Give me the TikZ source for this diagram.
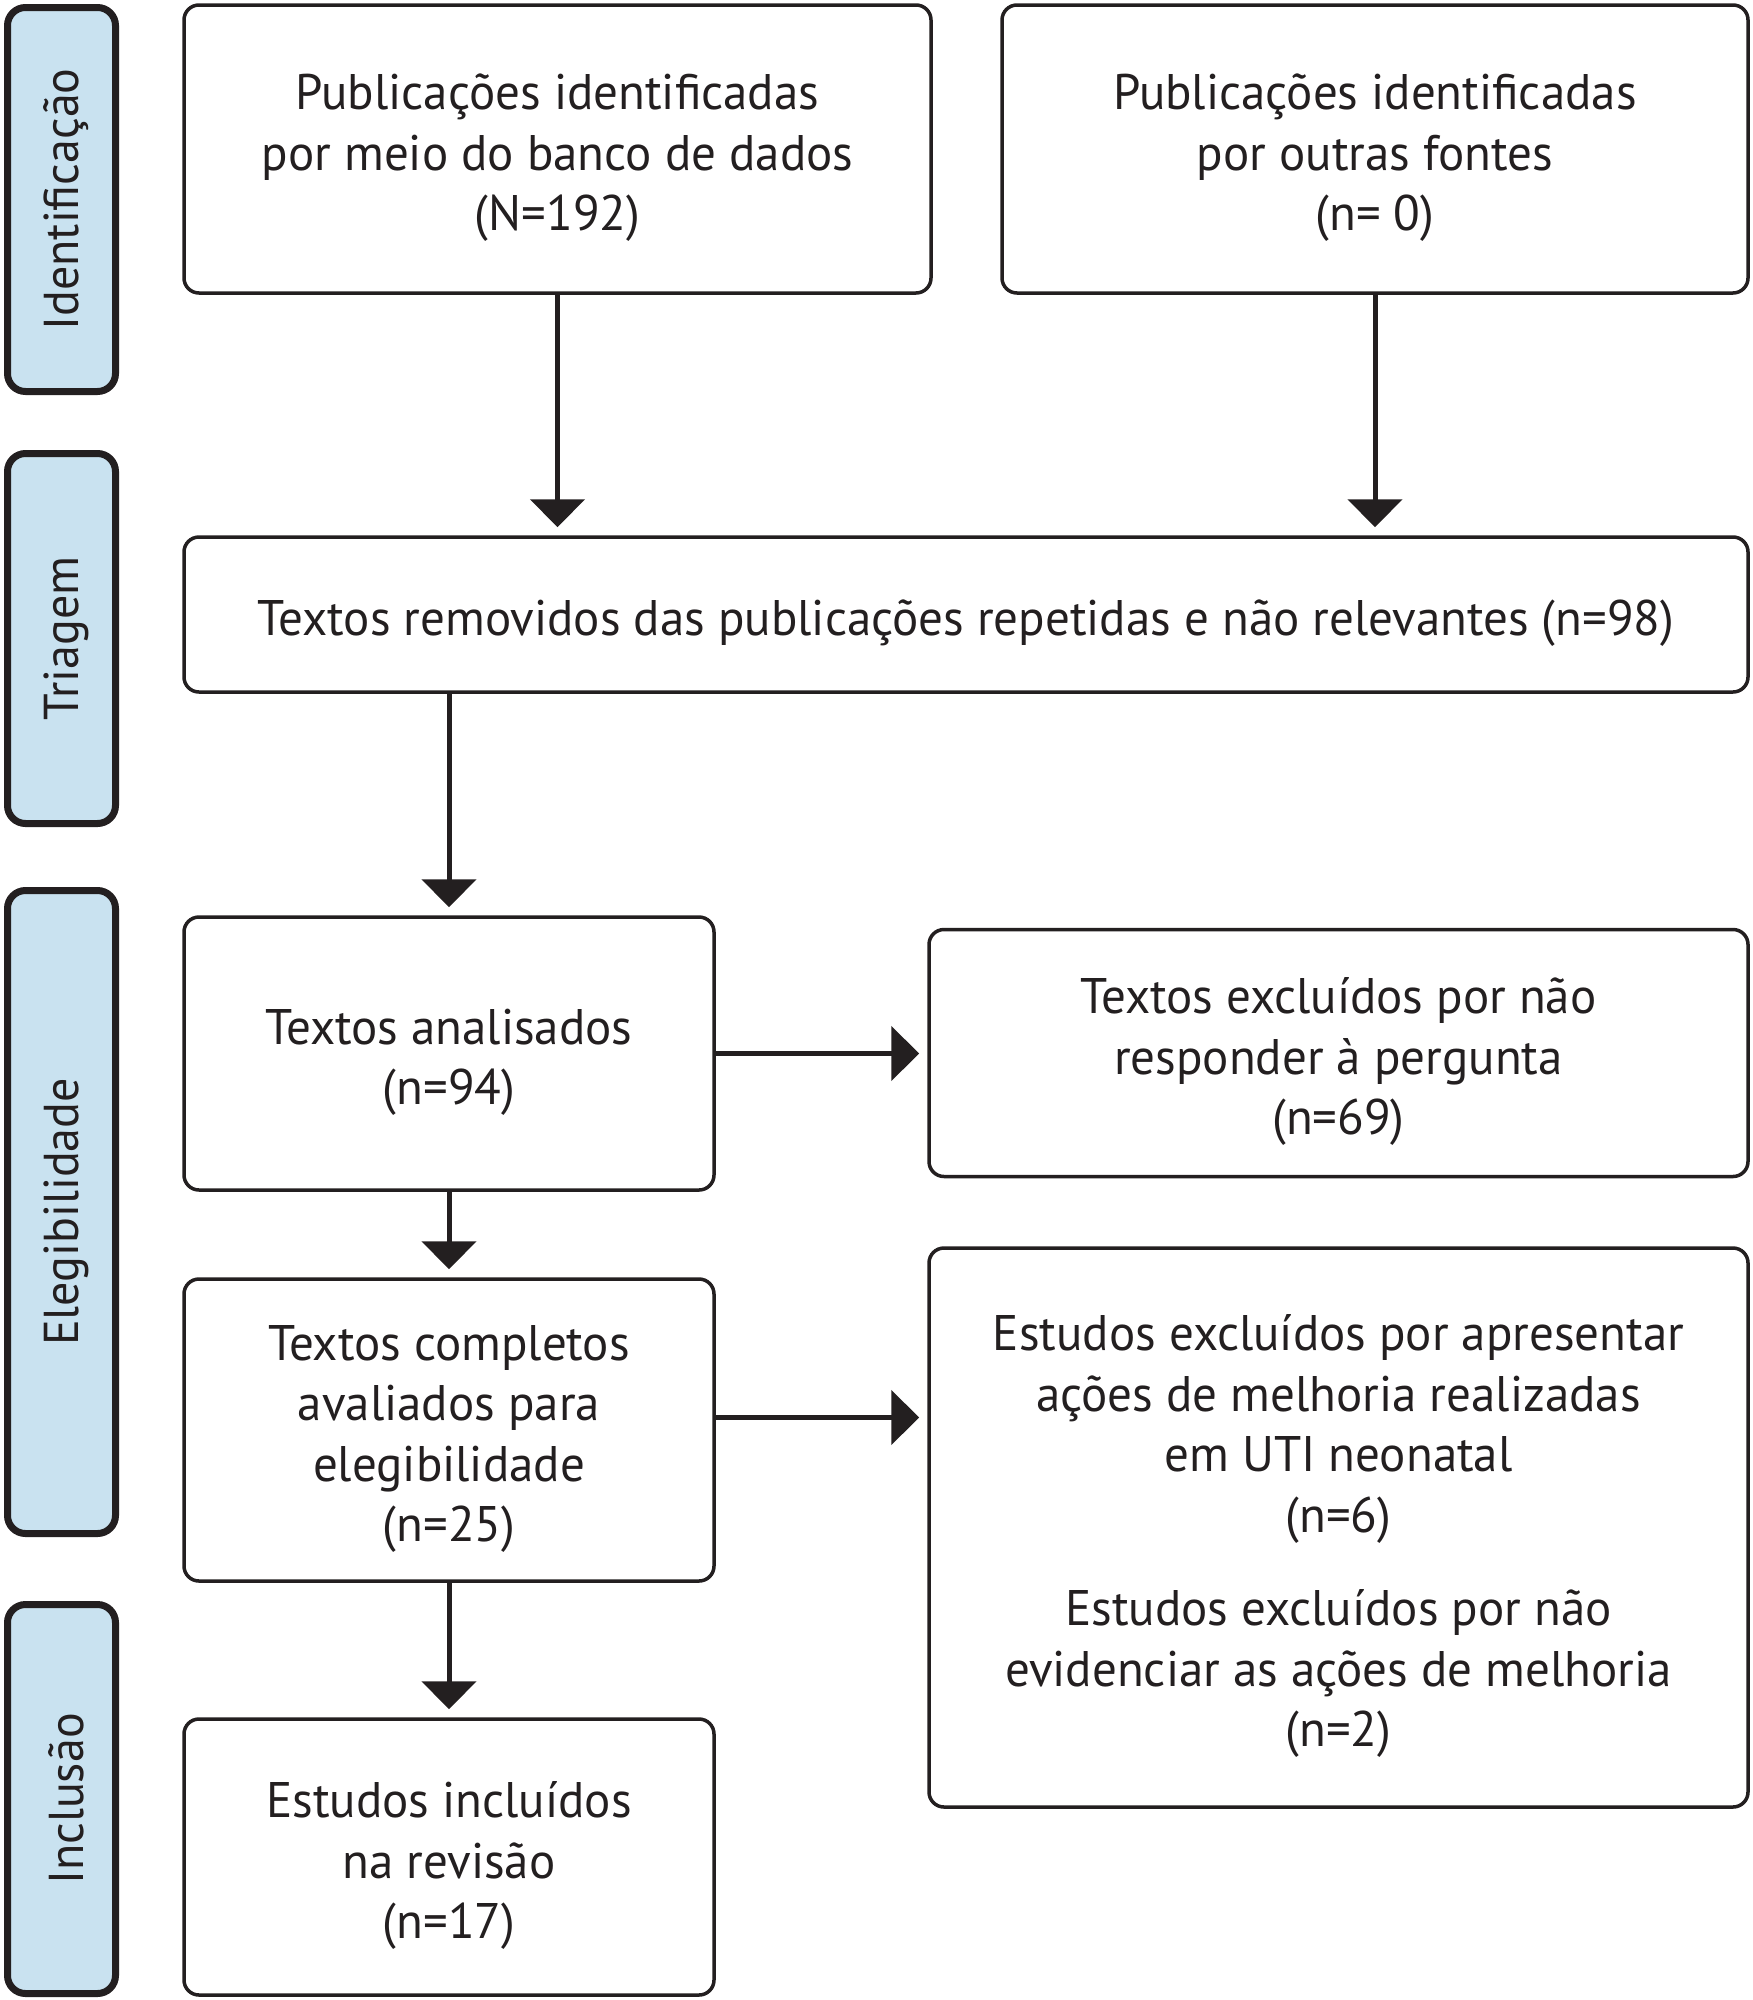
\documentclass[tikz,border=0pt]{standalone}
\usepackage{fontspec}
\setmainfont{PT Sans}[FakeStretch=0.98]
\usetikzlibrary{arrows.meta,calc}
\definecolor{ink}{HTML}{231F20}
\definecolor{sideblue}{HTML}{C9E2F0}
\newcommand{\boxstrut}{\rule{0pt}{53pt}}
\begin{document}
\begin{tikzpicture}[x=1pt,y=-1pt,
  box/.style={draw=ink, line width=3.5pt, rounded corners=15pt, fill=white, align=center,
    font=\fontsize{50}{60.5}\selectfont, text=ink, inner sep=0pt},
  side/.style={draw=ink, line width=7pt, rounded corners=18pt, fill=sideblue, inner sep=0pt,
    minimum width=108pt},
  sidelabel/.style={rotate=90, text=ink, font=\fontsize{49}{60}\selectfont},
  arr/.style={draw=ink, line width=5pt, -{Triangle[length=28pt,width=54pt]}, shorten >=8pt}
]
\useasboundingbox (0,0) rectangle (1753,2000);
% side bars
\node[side, minimum height=384pt] (s1) at (61.5,199.5) {};
\node[side, minimum height=370pt] (s2) at (61.5,638.5) {};
\node[side, minimum height=643pt] (s3) at (61.5,1212) {};
\node[side, minimum height=389pt] (s4) at (61.5,1799) {};
\node[sidelabel] (l1) at ($(s1.center)+(5,0)$) {Identificação};
\node[sidelabel] (l2) at ($(s2.center)+(5,0)$) {Triagem};
\node[sidelabel] (l3) at ($(s3.center)+(5,0)$) {Elegibilidade};
\node[sidelabel] (l4) at ($(s4.center)+(5,0)$) {Inclusão};
% boxes
\node[box, minimum width=747pt, minimum height=288pt] (b1) at (557.5,149)
  {\boxstrut Publicações identificadas\\por meio do banco de dados\\(N=192)};
\node[box, minimum width=746pt, minimum height=288pt] (b2) at (1375,149)
  {\boxstrut Publicações identificadas\\por outras fontes\\(n= 0)};
\node[box, minimum width=1564pt, minimum height=155pt] (b3) at (966,614.5)
  {\boxstrut Textos removidos das publicações repetidas e não relevantes (n=98)};
\node[box, minimum width=530pt, minimum height=273pt] (b4) at (449,1053.5)
  {\boxstrut Textos analisados\\(n=94)};
\node[box, minimum width=819pt, minimum height=247pt] (b5) at (1338.5,1053)
  {\boxstrut Textos excluídos por não\\responder à pergunta\\(n=69)};
\node[box, minimum width=530pt, minimum height=302pt] (b6) at (449,1430)
  {\boxstrut Textos completos\\avaliados para\\elegibilidade\\(n=25)};
\node[box, minimum width=819pt, minimum height=559pt] (b7) at (1338.5,1527.5)
  {\boxstrut Estudos excluídos por apresentar\\ações de melhoria realizadas\\em UTI neonatal\\(n=6)\\[33pt]Estudos excluídos por não\\evidenciar as ações de melhoria\\(n=2)};
\node[box, minimum width=530pt, minimum height=276pt] (b8) at (449,1857)
  {\boxstrut Estudos incluídos\\na revisão\\(n=17)};
% arrows
\draw[arr] (b1.south) -- (b1.south |- b3.north);
\draw[arr] (b2.south) -- (b2.south |- b3.north);
\draw[arr] (b3.south -| b4.north) -- (b4.north);
\draw[arr] (b4.east) -- (b4.east -| b5.west);
\draw[arr] (b4.south) -- (b6.north);
\draw[arr] ($(b6.east)+(0,-12.5)$) coordinate (c6) -- (c6 -| b7.west);
\draw[arr] (b6.south) -- (b8.north);
\end{tikzpicture}
\end{document}
